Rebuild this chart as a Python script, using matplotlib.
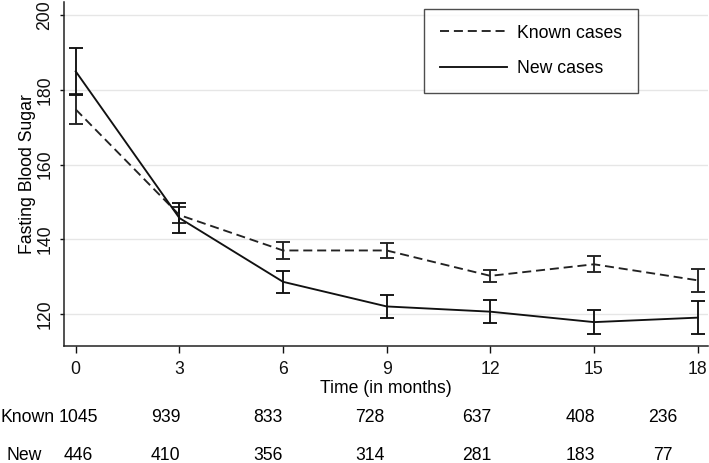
import numpy as np
import matplotlib
matplotlib.use("Agg")
import matplotlib.pyplot as plt
from matplotlib.lines import Line2D

plt.rcParams['font.family'] = ['Liberation Sans', 'DejaVu Sans']
plt.rcParams['lines.scale_dashes'] = False

# months of follow-up
months = [0, 3, 6, 9, 12, 15, 18]

# mean fasting blood sugar and half-width of the error bars
known_mean = [174.8, 146.5, 137.0, 137.0, 130.2, 133.3, 129.0]
known_err = [4.0, 2.2, 2.4, 2.0, 1.6, 2.2, 3.1]
new_mean = [185.0, 145.7, 128.6, 122.0, 120.6, 117.8, 119.0]
new_err = [6.3, 4.0, 3.0, 3.1, 3.0, 3.2, 4.4]

# number at risk
known_n = [1045, 939, 833, 728, 637, 408, 236]
new_n = [446, 410, 356, 314, 281, 183, 77]

yticks = [120, 140, 160, 180, 200]

fs = 12.7
lw = 1.35
dash = (6.5, 3.5)

fig = plt.figure(figsize=(7.09, 4.63), dpi=100)
ax = fig.add_axes([0.0907, 0.2527, 0.9079, 0.7423])

ax.errorbar(months, known_mean, yerr=known_err, color='#222222', lw=lw,
            dashes=dash, capsize=5, elinewidth=lw, capthick=lw)
ax.errorbar(months, new_mean, yerr=new_err, color='#111111', lw=lw,
            capsize=5, elinewidth=lw, capthick=lw)

ax.set_xlim(-0.33, 18.3)
ax.set_ylim(111.4, 203.5)
ax.set_xticks(months)
ax.set_yticks(yticks)
ax.set_yticklabels([str(t) for t in yticks], rotation=90, va='center')
ax.yaxis.grid(True, color='#e6e6e6', lw=1)
ax.set_axisbelow(True)
for s in ['top', 'right']:
    ax.spines[s].set_visible(False)
for s in ['left', 'bottom']:
    ax.spines[s].set_linewidth(1.1)
    ax.spines[s].set_color('#222222')
ax.tick_params(axis='x', length=5, width=1, pad=6, labelsize=fs, colors='#111111')
ax.tick_params(axis='y', length=3, width=1, pad=5, labelsize=fs, colors='#111111')
ax.set_xlabel('Time (in months)', fontsize=fs, labelpad=1)
ax.set_ylabel('Fasting Blood Sugar', fontsize=fs, labelpad=0)

handles = [Line2D([], [], color='#222222', lw=lw, dashes=dash),
           Line2D([], [], color='#111111', lw=lw)]
leg = fig.legend(handles, ['Known cases', 'New cases'], loc='upper left',
                 bbox_to_anchor=(0.5976, 0.981),
                 fontsize=fs, handlelength=3.8, handletextpad=0.6,
                 borderaxespad=0, borderpad=0.9, labelspacing=1.05,
                 fancybox=False, frameon=True)
leg.get_frame().set_edgecolor('#222222')
leg.get_frame().set_linewidth(1.0)

# risk table below the axis
table_x = [0.07, 2.6, 5.55, 8.52, 11.62, 14.6, 17.0]
tr = matplotlib.transforms.blended_transform_factory(ax.transData, fig.transFigure)
row_y = [1 - 417 / 463, 1 - 456 / 463]
fig.text(1 / 709, row_y[0], 'Known', fontsize=fs, va='center', ha='left')
fig.text(7 / 709, row_y[1], 'New', fontsize=fs, va='center', ha='left')
for x, a, b in zip(table_x, known_n, new_n):
    ax.text(x, row_y[0], str(a), transform=tr, fontsize=fs, ha='center', va='center')
    ax.text(x, row_y[1], str(b), transform=tr, fontsize=fs, ha='center', va='center')

fig.savefig('out.png', dpi=100)
